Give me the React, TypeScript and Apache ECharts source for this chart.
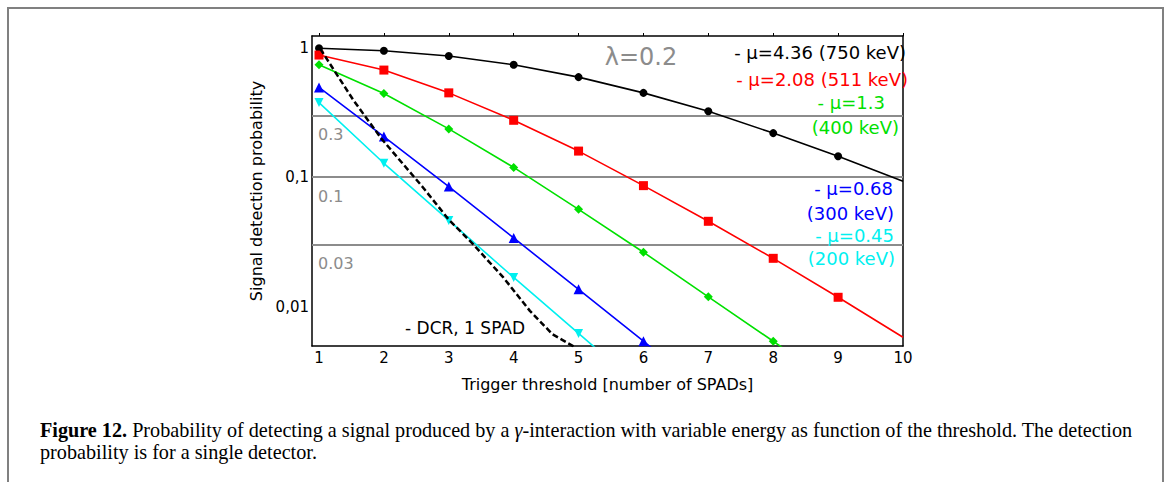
import React, { useEffect, useRef } from "react";
import * as echarts from "echarts";

// ---- data ----
const xValues = [1, 2, 3, 4, 5, 6, 7, 8, 9, 10];
const black436 = [0.99, 0.948, 0.862, 0.738, 0.593, 0.448, 0.323, 0.219, 0.145, 0.093];
const red208 = [0.878, 0.672, 0.448, 0.275, 0.159, 0.086, 0.0456, 0.0236, 0.0118, 0.0058];
const green13 = [0.738, 0.443, 0.236, 0.119, 0.0564, 0.0263, 0.0119, 0.0054, 0.0024];
const blue068 = [0.493, 0.206, 0.0846, 0.0339, 0.0136, 0.0054, 0.0021];
const cyan045 = [0.377, 0.128, 0.0463, 0.0168, 0.0062, 0.0023];
const dcrX = [1.02, 1.53, 1.96, 2.6, 2.99, 3.37, 3.84, 4.25, 4.6, 4.96];
const dcrY = [0.98, 0.393, 0.199, 0.0836, 0.0476, 0.0305, 0.0168, 0.00927, 0.0061, 0.0048];
const refLines = [0.3, 0.1, 0.03];
const refLabels = ["0.3", "0.1", "0.03"];
const yTickValues = [1, 0.1, 0.01];
const yTickLabels = ["1", "0,1", "0,01"];
const legendLabels = [
  "- μ=4.36 (750 keV)",
  "- μ=2.08 (511 keV)",
  "- μ=1.3",
  "(400 keV)",
  "- μ=0.68",
  "(300 keV)",
  "- μ=0.45",
  "(200 keV)",
];
const lambdaLabel = "λ=0.2";
const dcrLabel = "- DCR, 1 SPAD";
const xTitle = "Trigger threshold [number of SPADs]";
const yTitle = "Signal detection probability";
const captionText =
  "{b|Figure 12.} Probability of detecting a signal produced by a {i|γ}-interaction with variable energy as function of the threshold. The detection\nprobability is for a single detector.";

// ---- layout / style ----
const legendLayout = [
  { x: 906, y: 52, c: "#000000" },
  { x: 908, y: 79, c: "#ff0000" },
  { x: 885, y: 102, c: "#00e000" },
  { x: 899, y: 127, c: "#00e000" },
  { x: 893, y: 188, c: "#0000ff" },
  { x: 894, y: 213, c: "#0000ff" },
  { x: 894, y: 235, c: "#00f0f0" },
  { x: 895, y: 258, c: "#00f0f0" },
];
const FONT = "DejaVu Sans";
const SERIF = "Liberation Serif";
const GRAY = "#8c8c8c";
const CAP_SIZE = 20.2;

function toData(ys: number[]) {
  return ys.map((y, i) => {
    const item: any = { value: [xValues[i], y] };
    if (xValues[i] === 10) item.symbol = "none";
    return item;
  });
}

function yLabel(v: number) {
  const l = Math.log10(v);
  if (Math.abs(l - Math.round(l)) > 1e-6) return "";
  const idx = yTickValues.findIndex((t) => Math.abs(Math.log10(t) - l) < 1e-6);
  return idx >= 0 ? yTickLabels[idx] : "";
}

export default function App() {
  const ref = useRef<HTMLDivElement>(null);
  useEffect(() => {
    if (!ref.current) return;
    const chart = echarts.init(ref.current, null, { renderer: "svg" });
    const yMin = 0.00496;
    const yMax = 1.232;
    const lineSeries = (name: string, ys: number[], color: string, symbol: string, size: number, rotate = 0, extra: any = {}) => ({
      type: "line",
      name,
      data: toData(ys),
      symbol,
      symbolSize: size,
      symbolRotate: rotate,
      showAllSymbol: true,
      clip: true,
      z: 3,
      lineStyle: { color, width: 1.6 },
      itemStyle: { color },
      ...extra,
    });
    chart.setOption({
      animation: false,
      backgroundColor: "#ffffff",
      grid: { left: 312, right: 264, top: 36, bottom: 136, containLabel: false },
      xAxis: [
        {
          type: "value",
          min: 0.892,
          max: 10,
          position: "bottom",
          axisLine: { show: true, onZero: false, lineStyle: { color: "#000", width: 1.5 } },
          axisTick: { show: false },
          splitLine: { show: false },
          axisLabel: {
            customValues: xValues,
            formatter: (v: number) => String(Math.round(v)),
            color: "#000",
            fontSize: 15,
            fontFamily: FONT,
            margin: 4,
          },
          name: xTitle,
          nameLocation: "middle",
          nameGap: 30,
          nameTextStyle: { color: "#000", fontSize: 16, fontFamily: FONT },
        },
        {
          type: "value",
          min: 0.892,
          max: 10,
          position: "top",
          axisLine: { show: true, onZero: false, lineStyle: { color: "#000", width: 1.5 } },
          axisTick: { show: true, customValues: xValues, length: 3, lineStyle: { color: "#000", width: 1 } },
          axisLabel: { show: false },
          splitLine: { show: false },
        },
      ],
      yAxis: [
        {
          type: "log",
          logBase: 10,
          min: yMin,
          max: yMax,
          position: "left",
          axisLine: { show: true, onZero: false, lineStyle: { color: "#000", width: 1.5 } },
          axisTick: { show: false },
          splitLine: { show: false },
          axisLabel: {
            formatter: yLabel,
            color: "#000",
            fontSize: 15,
            fontFamily: FONT,
            margin: 3,
          },
          name: yTitle,
          nameLocation: "middle",
          nameGap: 45,
          nameTextStyle: { color: "#000", fontSize: 16, fontFamily: FONT },
        },
        {
          type: "log",
          logBase: 10,
          min: yMin,
          max: yMax,
          position: "right",
          axisLine: { show: true, onZero: false, lineStyle: { color: "#000", width: 1.5 } },
          axisTick: { show: false },
          axisLabel: { show: false },
          splitLine: { show: false },
        },
      ],
      series: [
        lineSeries(legendLabels[0], black436, "#000000", "circle", 8, 0, {
          markLine: {
            silent: true,
            symbol: "none",
            z: 1,
            lineStyle: { color: GRAY, width: 2, type: "solid" },
            label: {
              position: "insideStartBottom",
              color: GRAY,
              fontSize: 16,
              fontFamily: FONT,
              distance: [6, 11],
            },
            data: refLines.map((v, i) => ({ yAxis: v, label: { formatter: refLabels[i] } })),
          },
        }),
        lineSeries(legendLabels[1], red208, "#ff0000", "rect", 9),
        lineSeries(legendLabels[2], green13, "#00e000", "diamond", 9),
        lineSeries(legendLabels[4], blue068, "#0000ff", "triangle", 10),
        lineSeries(legendLabels[6], cyan045, "#00f0f0", "triangle", 9, 180),
        {
          type: "line",
          name: dcrLabel,
          data: dcrX.map((x, i) => [x, dcrY[i]]),
          symbol: "none",
          smooth: false,
          clip: true,
          z: 4,
          lineStyle: { color: "#000", width: 2.5, type: [6, 3] },
        },
      ],
      graphic: [
        {
          type: "rect",
          shape: { x: 8, y: 8, width: 1155, height: 500 },
          style: { fill: "none", stroke: "#808080", lineWidth: 2 },
          silent: true,
        },
        ...legendLabels.map((t, i) => ({
          type: "text",
          x: legendLayout[i].x,
          y: legendLayout[i].y,
          z: 10,
          style: {
            text: t,
            fill: legendLayout[i].c,
            fontSize: 18,
            fontFamily: FONT,
            align: "right",
            verticalAlign: "middle",
          },
        })),
        {
          type: "text",
          x: 641,
          y: 57,
          z: 10,
          style: { text: lambdaLabel, fill: GRAY, fontSize: 24, fontFamily: FONT, align: "center", verticalAlign: "middle" },
        },
        {
          type: "text",
          x: 405,
          y: 328,
          z: 10,
          style: { text: dcrLabel, fill: "#000", fontSize: 17, fontFamily: FONT, align: "left", verticalAlign: "middle" },
        },
        {
          type: "text",
          x: 40,
          y: 441,
          z: 10,
          style: {
            text: captionText,
            fill: "#000",
            fontSize: CAP_SIZE,
            fontFamily: SERIF,
            lineHeight: 22,
            align: "left",
            verticalAlign: "middle",
            rich: {
              b: { fontWeight: "bold", fontSize: CAP_SIZE, fontFamily: SERIF, lineHeight: 22 },
              i: { fontStyle: "italic", fontSize: CAP_SIZE, fontFamily: SERIF, lineHeight: 22 },
            },
          },
        },
      ],
    });
    return () => chart.dispose();
  }, []);
  return <div ref={ref} style={{ position: "absolute", left: 0, top: 0, width: 1167, height: 482 }} />;
}
